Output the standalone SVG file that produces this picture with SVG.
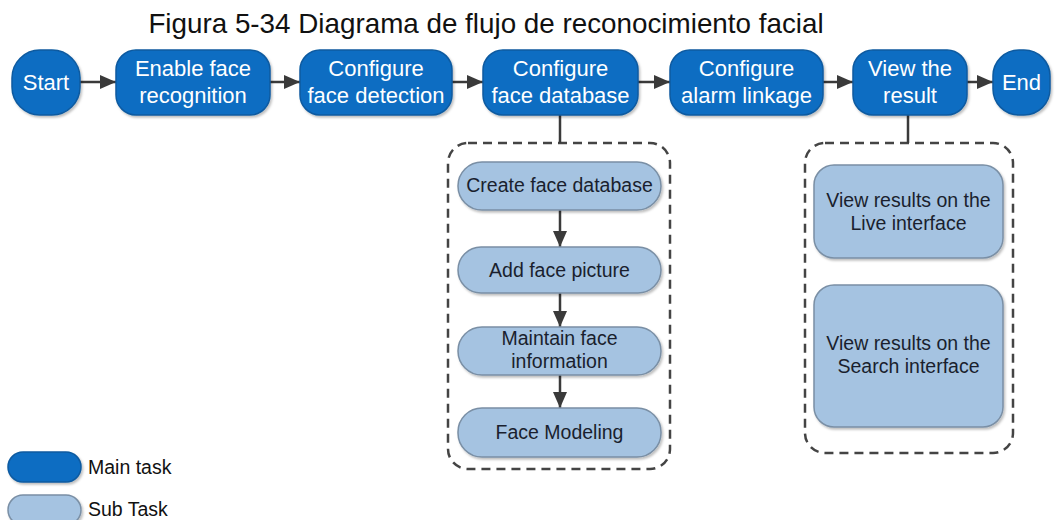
<svg xmlns="http://www.w3.org/2000/svg" width="1056" height="520" viewBox="0 0 1056 520">
<defs>
<marker id="ah" viewBox="0 0 16 14" refX="16" refY="7" markerWidth="16" markerHeight="14" markerUnits="userSpaceOnUse" orient="auto">
<path d="M0,0 L16,7 L0,14 Z" fill="#3a3a3a"/>
</marker>
<filter id="sh" x="-10%" y="-10%" width="130%" height="140%">
<feDropShadow dx="1.5" dy="2" stdDeviation="1.2" flood-color="#000" flood-opacity="0.25"/>
</filter>
</defs>
<style>
text{font-family:"Liberation Sans",Arial,sans-serif;}
.main rect{fill:#0b6dc2;stroke:#0a5aa0;stroke-width:1.5;filter:url(#sh);}
.main text{fill:#ffffff;font-size:22px;text-anchor:middle;}
.sub rect{fill:#a5c3e1;stroke:#7a8fa5;stroke-width:1.5;filter:url(#sh);}
.sub text{fill:#1a1f2e;font-size:19.5px;text-anchor:middle;}
.conn line{stroke:#3a3a3a;stroke-width:2.5;}
.arr{marker-end:url(#ah);}
.dash{fill:none;stroke:#444;stroke-width:2.5;stroke-dasharray:9 6;}
.title{font-size:27.8px;fill:#111;text-anchor:middle;}
.leg{font-size:19.5px;fill:#111;}
</style>
<rect width="1056" height="520" fill="#ffffff"/>
<text class="title" x="486" y="33">Figura 5-34 Diagrama de flujo de reconocimiento facial</text>

<g id="group-database"><rect class="dash" x="448" y="143" width="222" height="326" rx="20"/></g>
<g id="group-result"><rect class="dash" x="805" y="143" width="208" height="310" rx="20"/></g>

<g id="connectors" class="conn">
<line class="arr" x1="80" y1="82" x2="116" y2="82"/>
<line class="arr" x1="270" y1="82" x2="300" y2="82"/>
<line class="arr" x1="452" y1="82" x2="483" y2="82"/>
<line class="arr" x1="638" y1="82" x2="670" y2="82"/>
<line class="arr" x1="823" y1="82" x2="853" y2="82"/>
<line class="arr" x1="967" y1="82" x2="993" y2="82"/>
<line x1="560" y1="115" x2="560" y2="143"/>
<line x1="908" y1="115" x2="908" y2="143"/>
<line class="arr" x1="560" y1="210" x2="560" y2="247"/>
<line class="arr" x1="560" y1="293" x2="560" y2="327"/>
<line class="arr" x1="560" y1="375" x2="560" y2="408"/>
</g>

<g id="start" class="main"><rect x="12" y="50" width="68" height="65" rx="28"/><text x="46" y="90">Start</text></g>
<g id="enable" class="main"><rect x="116" y="50" width="154" height="65" rx="20"/><text x="193" y="76">Enable face</text><text x="193" y="103">recognition</text></g>
<g id="detection" class="main"><rect x="300" y="50" width="152" height="65" rx="20"/><text x="376" y="76">Configure</text><text x="376" y="103">face detection</text></g>
<g id="database" class="main"><rect x="483" y="50" width="155" height="65" rx="20"/><text x="560.5" y="76">Configure</text><text x="560.5" y="103">face database</text></g>
<g id="alarm" class="main"><rect x="670" y="50" width="153" height="65" rx="20"/><text x="746.5" y="76">Configure</text><text x="746.5" y="103">alarm linkage</text></g>
<g id="result" class="main"><rect x="853" y="50" width="114" height="65" rx="20"/><text x="910" y="76">View the</text><text x="910" y="103">result</text></g>
<g id="end" class="main"><rect x="993" y="50" width="57" height="65" rx="26"/><text x="1021.5" y="90">End</text></g>

<g id="create-db" class="sub"><rect x="458" y="162" width="203" height="48" rx="24"/><text x="559.5" y="192">Create face database</text></g>
<g id="add-pic" class="sub"><rect x="458" y="247" width="203" height="46" rx="23"/><text x="559.5" y="277">Add face picture</text></g>
<g id="maintain" class="sub"><rect x="458" y="327" width="203" height="48" rx="24"/><text x="559.5" y="345">Maintain face</text><text x="559.5" y="368">information</text></g>
<g id="modeling" class="sub"><rect x="458" y="408" width="203" height="49" rx="24"/><text x="559.5" y="439">Face Modeling</text></g>
<g id="live" class="sub"><rect x="814" y="165" width="189" height="93" rx="20"/><text x="908.5" y="207">View results on the</text><text x="908.5" y="230">Live interface</text></g>
<g id="search" class="sub"><rect x="814" y="285" width="189" height="142" rx="20"/><text x="908.5" y="350">View results on the</text><text x="908.5" y="373">Search interface</text></g>

<g id="legend-main" class="main"><rect x="8" y="452" width="73" height="30" rx="15"/><text class="leg" x="88" y="474" style="text-anchor:start;fill:#111;font-size:19.5px">Main task</text></g>
<g id="legend-sub" class="sub"><rect x="8" y="495" width="73" height="30" rx="15"/><text class="leg" x="88" y="516" style="text-anchor:start;fill:#111;font-size:19.5px">Sub Task</text></g>
</svg>
